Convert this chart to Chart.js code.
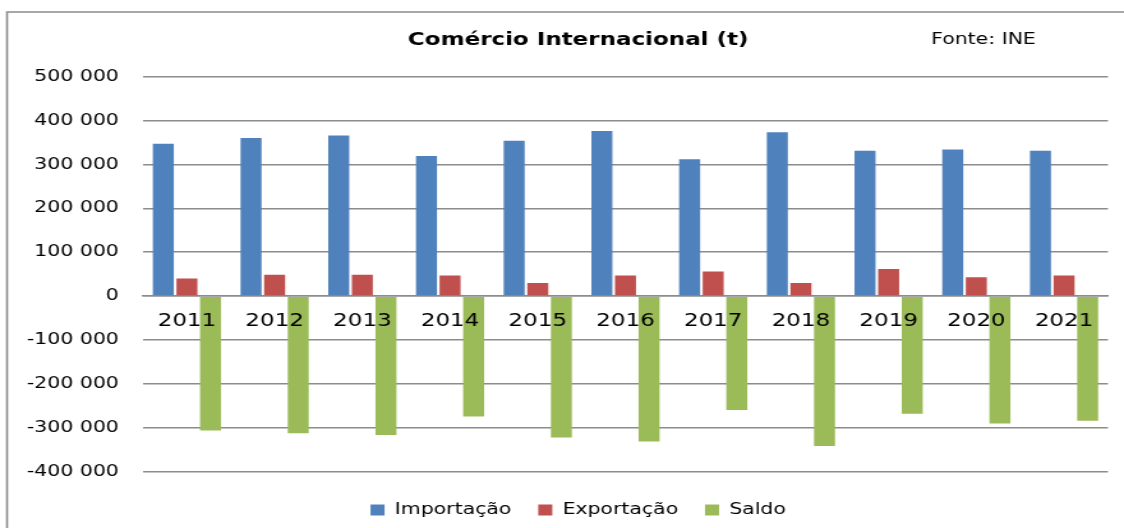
<!DOCTYPE html>
<html lang="pt">
<head>
    <meta charset="UTF-8">
    <title>Comércio Internacional (t)</title>
    <style>
        body { margin: 0; background: #fff; }
    </style>
</head>
<body>
    <canvas id="grafico" width="880" height="528" style="display: block; width: 1124px; height: 528px;"></canvas>

    <script src="https://cdn.jsdelivr.net/npm/chart.js"></script>
    <script>
        // dados (toneladas)
        const anos = ['2011', '2012', '2013', '2014', '2015', '2016', '2017', '2018', '2019', '2020', '2021'];
        const importacao = [347000, 360000, 366000, 319000, 354000, 376000, 312000, 373000, 331000, 334000, 331000];
        const exportacao = [40000, 49000, 49000, 47000, 30000, 47000, 56000, 30000, 62000, 43000, 47000];
        const saldo = [-306000, -312000, -316000, -274000, -322000, -331000, -259000, -341000, -268000, -290000, -284000];
        const eixoMin = -400000;
        const eixoMax = 500000;
        const passo = 100000;

        const fonte = 'DejaVu Sans';
        const cinza = '#8c8c8c';

        // moldura, nota "Fonte: INE" e espaço para os rótulos do eixo y
        const extras = {
            id: 'extras',
            afterLayout(chart) {
                chart.scales.y.left = 0;
            },
            beforeDraw(chart) {
                const ctx = chart.ctx;
                ctx.save();
                ctx.strokeStyle = cinza;
                ctx.lineWidth = 1.6;
                ctx.beginPath();
                ctx.moveTo(5.5, chart.height);
                ctx.lineTo(5.5, 12);
                ctx.lineTo(chart.width, 12);
                ctx.stroke();
                ctx.restore();
            },
            afterDraw(chart) {
                const ctx = chart.ctx;
                ctx.save();
                ctx.font = '16px "' + fonte + '"';
                ctx.fillStyle = '#000';
                ctx.textAlign = 'center';
                ctx.textBaseline = 'middle';
                ctx.fillText('Fonte: INE', 770, 40);
                ctx.restore();
            }
        };

        const fmt = v => v.toLocaleString('en-US').replace(/,/g, ' ');

        new Chart(document.getElementById('grafico'), {
            type: 'bar',
            data: {
                labels: anos,
                datasets: [
                    { label: 'Importação', data: importacao, backgroundColor: '#4F81BD' },
                    { label: 'Exportação', data: exportacao, backgroundColor: '#C0504D' },
                    { label: 'Saldo', data: saldo, backgroundColor: '#9BBB59' }
                ]
            },
            options: {
                responsive: false,
                animation: false,
                devicePixelRatio: 1,
                layout: { padding: { left: 38, right: 12.6, top: 0, bottom: 0 } },
                datasets: {
                    bar: { categoryPercentage: 0.807, barPercentage: 0.89 }
                },
                scales: {
                    x: {
                        position: { y: 0 },
                        grid: { display: false, drawTicks: false },
                        border: { display: true, color: cinza, width: 1.6 },
                        ticks: {
                            z: 1,
                            color: '#000',
                            padding: 14,
                            font: { family: fonte, size: 18, lineHeight: 1.2 }
                        },
                        afterFit(s) { s.height = 0; }
                    },
                    y: {
                        min: eixoMin,
                        max: eixoMax,
                        grid: { color: cinza, lineWidth: 1.6, drawTicks: false },
                        border: { display: false },
                        ticks: {
                            stepSize: passo,
                            color: '#000',
                            padding: 19,
                            font: { family: fonte, size: 16 },
                            callback: v => fmt(v)
                        },
                        afterFit(s) { s.width = 74; }
                    }
                },
                plugins: {
                    title: {
                        display: true,
                        text: 'Comércio Internacional (t)',
                        color: '#000',
                        font: { family: fonte, size: 18, weight: 'bold', lineHeight: 1.2 },
                        padding: { top: 30, bottom: 25 }
                    },
                    legend: {
                        position: 'bottom',
                        title: { display: true, text: '', font: { size: 1 }, padding: { top: 8, bottom: 0 } },
                        labels: {
                            color: '#000',
                            boxWidth: 11,
                            boxHeight: 11,
                            padding: 21,
                            font: { family: fonte, size: 16 }
                        }
                    },
                    tooltip: { enabled: false }
                }
            },
            plugins: [extras]
        });
    </script>
</body>
</html>
